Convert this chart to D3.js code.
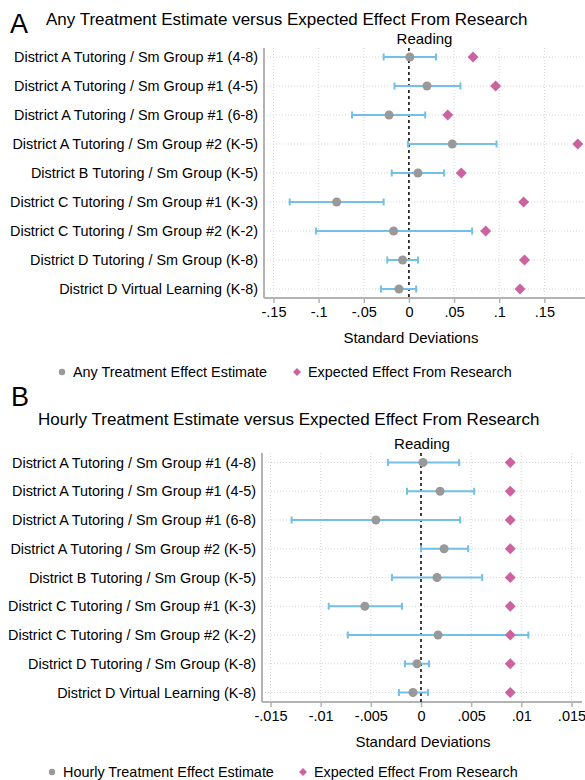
<!DOCTYPE html>
<html>
<head>
<meta charset="utf-8">
<script src="https://cdn.jsdelivr.net/npm/d3@7/dist/d3.min.js"></script>
<style>
  html, body { margin: 0; padding: 0; background: #fff; }
  svg { display: block; font-family: "Liberation Sans", Arial, sans-serif; }
</style>
</head>
<body>
<svg id="chart" width="585" height="780"></svg>
<script>
// ---------- data ----------
const categories = [
  "District A Tutoring / Sm Group #1 (4-8)",
  "District A Tutoring / Sm Group #1 (4-5)",
  "District A Tutoring / Sm Group #1 (6-8)",
  "District A Tutoring / Sm Group #2 (K-5)",
  "District B Tutoring / Sm Group (K-5)",
  "District C Tutoring / Sm Group #1 (K-3)",
  "District C Tutoring / Sm Group #2 (K-2)",
  "District D Tutoring / Sm Group (K-8)",
  "District D Virtual Learning (K-8)"
];

const anyEstimate = [0.001, 0.020, -0.022, 0.048, 0.010, -0.080, -0.017, -0.007, -0.011];
const anyLower    = [-0.028, -0.016, -0.063, -0.001, -0.019, -0.132, -0.103, -0.024, -0.031];
const anyUpper    = [0.030, 0.057, 0.018, 0.097, 0.039, -0.028, 0.070, 0.010, 0.008];
const anyExpected = [0.071, 0.096, 0.043, 0.187, 0.058, 0.127, 0.085, 0.128, 0.123];

const hourlyEstimate = [0.0002, 0.0019, -0.0045, 0.0023, 0.0016, -0.0056, 0.0017, -0.0004, -0.0008];
const hourlyLower    = [-0.0033, -0.0014, -0.0129, 0.0000, -0.0029, -0.0092, -0.0073, -0.0016, -0.0022];
const hourlyUpper    = [0.0038, 0.0053, 0.0039, 0.0047, 0.0061, -0.0019, 0.0107, 0.0008, 0.0007];
const hourlyExpected = [0.0089, 0.0089, 0.0089, 0.0089, 0.0089, 0.0089, 0.0089, 0.0089, 0.0089];

const anyTicks = [-0.15, -0.1, -0.05, 0, 0.05, 0.1, 0.15];
const anyTickLabels = ["-.15", "-.1", "-.05", "0", ".05", ".1", ".15"];
const hourlyTicks = [-0.015, -0.01, -0.005, 0, 0.005, 0.01, 0.015];
const hourlyTickLabels = ["-.015", "-.01", "-.005", "0", ".005", ".01", ".015"];

// ---------- style ----------
const COL_CI = "#72bfe8";
const COL_PT = "#999999";
const COL_EXP = "#cc639f";
const COL_GRID = "#d6d6d6";
const COL_AXIS = "#b3b3b3";

const svg = d3.select("#chart");
svg.append("rect").attr("width", 585).attr("height", 780).attr("fill", "#fff");

function diamond(g, x, y, r, color) {
  g.append("path")
    .attr("d", `M${x},${y - r}L${x + r},${y}L${x},${y + r}L${x - r},${y}Z`)
    .attr("fill", color);
}

function panel(cfg) {
  const g = svg.append("g");
  const x = d3.scaleLinear().domain(cfg.xDomain).range([cfg.left, cfg.right]);
  const y = d3.scalePoint().domain(categories).range([cfg.top, cfg.bottom]).padding(cfg.pad);

  // panel letter and title
  g.append("text").attr("x", cfg.letterX).attr("y", cfg.letterY)
    .attr("font-size", 27).attr("fill", "#000").text(cfg.letter);
  g.append("text").attr("x", cfg.titleX).attr("y", cfg.titleY)
    .attr("font-size", 17).attr("fill", "#000").text(cfg.title);
  g.append("text").attr("x", (cfg.left + cfg.right) / 2).attr("y", cfg.top - 4)
    .attr("text-anchor", "middle").attr("font-size", 15).attr("fill", "#000").text("Reading");

  // grid
  g.append("g").selectAll("line.v").data(cfg.ticks.filter(t => t !== 0)).join("line")
    .attr("x1", d => x(d)).attr("x2", d => x(d))
    .attr("y1", cfg.top).attr("y2", cfg.bottom)
    .attr("stroke", COL_GRID).attr("stroke-width", 1).attr("stroke-dasharray", "1,2");
  g.append("g").selectAll("line.h").data(categories).join("line")
    .attr("x1", cfg.left).attr("x2", cfg.right)
    .attr("y1", d => y(d)).attr("y2", d => y(d))
    .attr("stroke", COL_GRID).attr("stroke-width", 1).attr("stroke-dasharray", "1,2");

  // x axis
  const xAxis = d3.axisBottom(x).tickValues(cfg.ticks)
    .tickFormat((d, i) => cfg.tickLabels[i]).tickSize(5).tickSizeOuter(0).tickPadding(4);
  const ax = g.append("g").attr("transform", `translate(0,${cfg.bottom})`).call(xAxis);
  ax.select(".domain").attr("stroke", COL_AXIS).attr("stroke-width", 2)
    .attr("d", `M${cfg.left},0H${cfg.right}`);
  ax.selectAll(".tick line").attr("stroke", COL_AXIS).attr("stroke-width", 1.5);
  ax.selectAll(".tick text").attr("font-size", 14.5).attr("fill", "#000")
    .attr("font-family", "'Liberation Sans', Arial, sans-serif");

  // y axis (line + labels)
  const yAxis = d3.axisLeft(y).tickSize(0).tickPadding(6);
  const ay = g.append("g").attr("transform", `translate(${cfg.left},0)`).call(yAxis);
  ay.select(".domain").attr("stroke", COL_AXIS).attr("stroke-width", 2)
    .attr("d", `M0,${cfg.top}V${cfg.bottom}`);
  ay.selectAll(".tick text").attr("font-size", 14.4).attr("fill", "#000")
    .attr("font-family", "'Liberation Sans', Arial, sans-serif");

  // zero line
  g.append("line").attr("x1", x(0)).attr("x2", x(0))
    .attr("y1", cfg.top).attr("y2", cfg.bottom)
    .attr("stroke", "#000").attr("stroke-width", 1.5).attr("stroke-dasharray", "3,3");

  // axis title
  g.append("text").attr("x", x(0) + 2).attr("y", cfg.bottom + 45)
    .attr("text-anchor", "middle").attr("font-size", 15).attr("fill", "#000")
    .text("Standard Deviations");

  // marks
  const marks = g.append("g");
  categories.forEach((c, i) => {
    const yy = y(c);
    marks.append("line").attr("x1", x(cfg.lo[i])).attr("x2", x(cfg.hi[i]))
      .attr("y1", yy).attr("y2", yy).attr("stroke", COL_CI).attr("stroke-width", 2);
    [cfg.lo[i], cfg.hi[i]].forEach(v => {
      marks.append("line").attr("x1", x(v)).attr("x2", x(v))
        .attr("y1", yy - 3.5).attr("y2", yy + 3.5).attr("stroke", COL_CI).attr("stroke-width", 2);
    });
    marks.append("circle").attr("cx", x(cfg.est[i])).attr("cy", yy).attr("r", 4.5).attr("fill", COL_PT);
    diamond(marks, x(cfg.exp[i]), yy, 5.5, COL_EXP);
  });

  // legend
  const lg = g.append("g");
  lg.append("circle").attr("cx", cfg.legX1).attr("cy", cfg.legY - 5).attr("r", 3.2).attr("fill", COL_PT);
  lg.append("text").attr("x", cfg.legX1 + 11).attr("y", cfg.legY).attr("font-size", 14.4)
    .attr("fill", "#000").text(cfg.legend1);
  diamond(lg, cfg.legX2, cfg.legY - 5, 4, COL_EXP);
  lg.append("text").attr("x", cfg.legX2 + 11).attr("y", cfg.legY).attr("font-size", 14.4)
    .attr("fill", "#000").text("Expected Effect From Research");
}

panel({
  letter: "A", letterX: 10, letterY: 33,
  title: "Any Treatment Estimate versus Expected Effect From Research", titleX: 46, titleY: 25,
  left: 264, right: 585, top: 48, bottom: 298, pad: 0.31,
  xDomain: [-0.1605, 0.195],
  ticks: anyTicks, tickLabels: anyTickLabels,
  est: anyEstimate, lo: anyLower, hi: anyUpper, exp: anyExpected,
  legend1: "Any Treatment Effect Estimate", legX1: 62, legX2: 297, legY: 377
});

panel({
  letter: "B", letterX: 11, letterY: 406,
  title: "Hourly Treatment Estimate versus Expected Effect From Research", titleX: 38, titleY: 425,
  left: 262, right: 582, top: 453, bottom: 702, pad: 0.33,
  xDomain: [-0.01585, 0.01605],
  ticks: hourlyTicks, tickLabels: hourlyTickLabels,
  est: hourlyEstimate, lo: hourlyLower, hi: hourlyUpper, exp: hourlyExpected,
  legend1: "Hourly Treatment Effect Estimate", legX1: 52, legX2: 303, legY: 777
});
</script>
</body>
</html>
